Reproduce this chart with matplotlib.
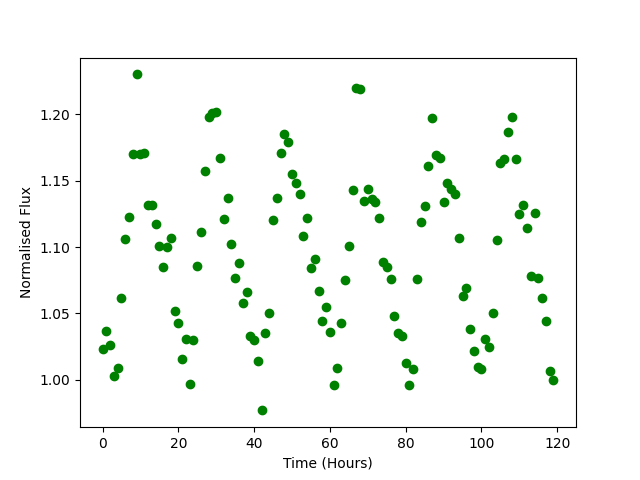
import matplotlib
matplotlib.use("Agg")
import matplotlib.pyplot as plt

# hours since start
time_hours = list(range(120))

# normalised flux
flux = [1.023, 1.037, 1.026, 1.003, 1.009, 1.062, 1.106, 1.123, 1.170, 1.230,
        1.170, 1.171, 1.132, 1.132, 1.117, 1.101, 1.085, 1.100, 1.107, 1.052,
        1.043, 1.016, 1.031, 0.997, 1.030, 1.086, 1.111, 1.157, 1.198, 1.201,
        1.202, 1.167, 1.121, 1.137, 1.102, 1.077, 1.088, 1.058, 1.066, 1.033,
        1.030, 1.014, 0.977, 1.035, 1.050, 1.120, 1.137, 1.171, 1.185, 1.179,
        1.155, 1.148, 1.140, 1.108, 1.122, 1.084, 1.091, 1.067, 1.044, 1.055,
        1.036, 0.996, 1.009, 1.043, 1.075, 1.101, 1.143, 1.220, 1.219, 1.135,
        1.144, 1.136, 1.134, 1.122, 1.089, 1.085, 1.076, 1.048, 1.035, 1.033,
        1.013, 0.996, 1.008, 1.076, 1.119, 1.131, 1.161, 1.197, 1.169, 1.167,
        1.134, 1.148, 1.144, 1.140, 1.107, 1.063, 1.069, 1.038, 1.022, 1.010,
        1.008, 1.031, 1.025, 1.050, 1.105, 1.163, 1.166, 1.187, 1.198, 1.166,
        1.125, 1.132, 1.114, 1.078, 1.126, 1.077, 1.062, 1.044, 1.007, 1.000]

plt.figure(figsize=(6.4, 4.8), dpi=100)
plt.plot(time_hours, flux, 'o', color='green')
plt.xlabel("Time (Hours)")
plt.ylabel("Normalised Flux")
plt.savefig("out.png")
